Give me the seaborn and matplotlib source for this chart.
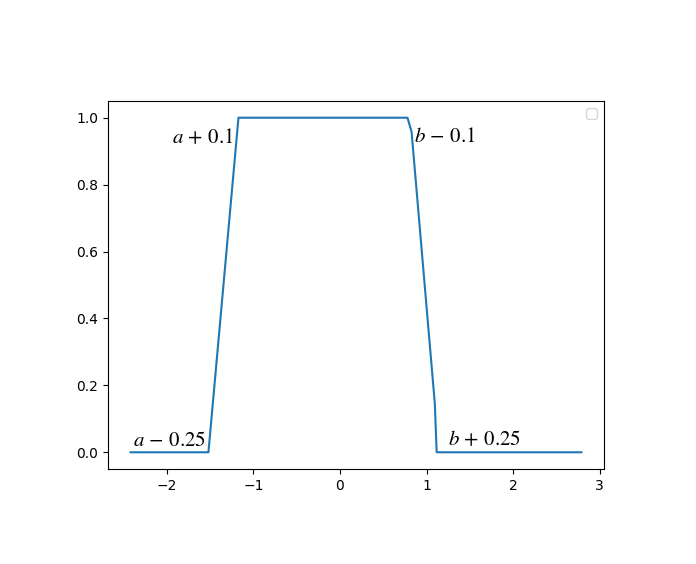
import matplotlib
matplotlib.use("Agg")
import matplotlib.pyplot as plt
import seaborn as sns
import pandas as pd

# Trapezoid curve
x_vals = [-2.42, -1.52, -1.173, 0.78, 0.827, 1.096, 1.117, 2.79]
y_vals = [0.0, 0.0, 1.0, 1.0, 0.958, 0.145, 0.0, 0.0]

labels = [r"$a\,+\,0.1$", r"$b\,-\,0.1$", r"$a\,-\,0.25$", r"$b\,+\,0.25$"]
label_x = [-1.945, 0.855, -2.395, 1.245]
label_y = [0.943, 0.945, 0.036, 0.039]

plt.rcParams["mathtext.fontset"] = "stix"

df = pd.DataFrame({"x": x_vals, "y": y_vals})

fig = plt.figure(figsize=(6.96, 5.64), dpi=100)
ax = fig.add_axes([108/696, 1 - 469/564, (604 - 108)/696, (469 - 101)/564])
sns.lineplot(data=df, x="x", y="y", ax=ax, sort=False, color="#1f77b4", linewidth=1.5)

for t, tx, ty in zip(labels, label_x, label_y):
    ax.text(tx, ty, t, fontsize=15, ha="left", va="center")

ax.set_xlabel("")
ax.set_ylabel("")
ax.legend(handles=[], loc="upper right")

fig.savefig("out.png", dpi=100)
